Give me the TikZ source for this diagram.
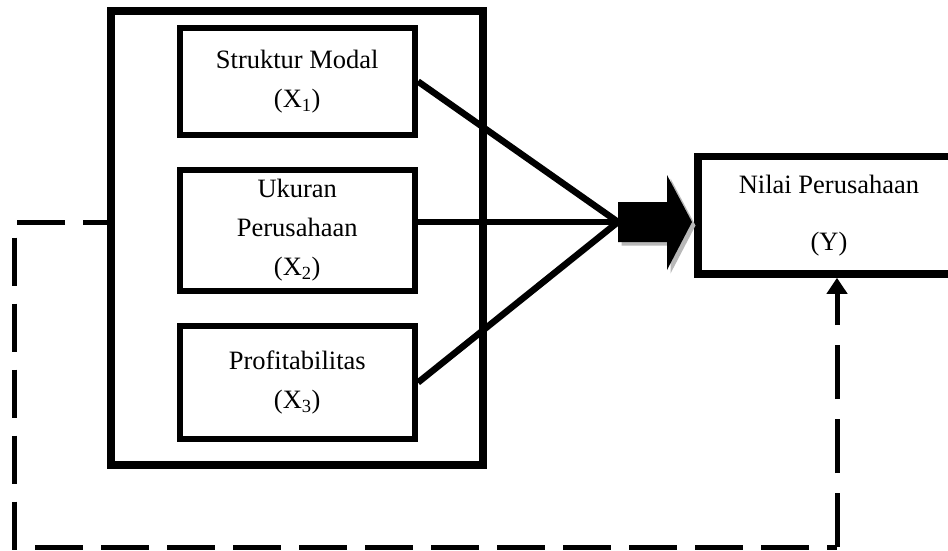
\documentclass[tikz,border=0pt]{standalone}
\usepackage{fontspec}
\setmainfont{Liberation Serif}
\usetikzlibrary{calc,shadows,arrows.meta}

\tikzset{
  soft shadow/.style={drop shadow={shadow xshift=3.5pt, shadow yshift=-3.5pt, fill=black!28, opacity=1}},
  groupbox/.style={draw=black, fill=white, line width=8pt, rectangle, inner sep=0pt, soft shadow},
  varbox/.style={draw=black, fill=white, line width=6pt, rectangle, inner sep=0pt,
    align=center, font=\fontsize{26.5}{39}\selectfont},
  targetbox/.style={draw=black, fill=white, line width=7.5pt, rectangle, inner sep=0pt,
    align=center, font=\fontsize{26.5}{30}\selectfont, soft shadow},
  link/.style={draw=black, line width=6.5pt},
  blockarrow/.style={fill=black, soft shadow},
  feedback/.style={draw=black, line width=5pt, dash pattern=on 48pt off 18pt, dash phase=24pt},
  feedback rise/.style={draw=black, line width=5pt, dash pattern=on 54pt off 20pt,
    -{Triangle[width=20pt,length=16pt]}}
}

\begin{document}
\begin{tikzpicture}[x=1pt, y={(0pt,-1pt)}]
  \clip (0,0) rectangle (948,550);
  \fill[white] (0,0) rectangle (948,550);

  % grouping frame around the three independent variables
  \node[groupbox, minimum width=372pt, minimum height=454pt] (group) at (297,238) {};

  % independent variables
  \node[varbox, minimum width=235.5pt, minimum height=107pt] (box1) at (297.25,81.5)
    {Struktur Modal\\(X\textsubscript{1})};
  \node[varbox, minimum width=235.5pt, minimum height=121pt] (box2) at (297.25,230.5)
    {Ukuran\\Perusahaan\\(X\textsubscript{2})};
  \node[varbox, minimum width=235.5pt, minimum height=113pt] (box3) at (297.25,382.5)
    {Profitabilitas\\(X\textsubscript{3})};

  % dependent variable
  \node[targetbox, minimum width=262pt, minimum height=117.5pt] (ybox) at (829,215.25)
    {Nilai Perusahaan\\[27pt](Y)};

  % converging links
  \coordinate (hub) at (618,222);
  \draw[link] (box1.east) -- (hub);
  \draw[link] (box2.east |- hub) -- (hub);
  \draw[link] (box3.east) -- (hub);

  % block arrow into the dependent variable
  \fill[blockarrow] ($(hub)+(0,-20)$) -- ++(49,0) -- ++(0,-27) -- ($(hub)+(74,0)$)
    -- ($(hub)+(49,48)$) -- ++(0,-28) -- ($(hub)+(0,20)$) -- cycle;

  % dashed feedback path: around the bottom, then up into the dependent variable
  \coordinate (fcornerA) at (14.5,547);
  \coordinate (fcornerB) at (837,547);
  \draw[feedback] (group.west |- hub) -- (fcornerA |- hub) -- (fcornerA) -- (fcornerB);
  \draw[feedback rise] (fcornerB) -- (fcornerB |- ybox.south);
\end{tikzpicture}
\end{document}
